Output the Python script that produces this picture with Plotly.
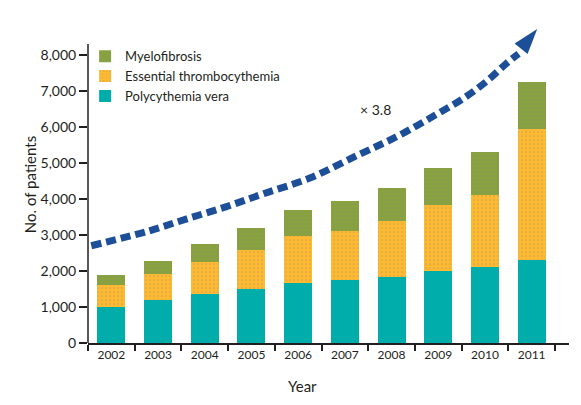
import plotly.graph_objects as go

years = ["2002", "2003", "2004", "2005", "2006", "2007", "2008", "2009", "2010", "2011"]
polycythemia_vera = [1000, 1200, 1360, 1500, 1670, 1750, 1840, 2000, 2120, 2300]
essential_thrombocythemia = [610, 720, 890, 1080, 1300, 1360, 1540, 1830, 1990, 3640]
myelofibrosis = [280, 360, 500, 610, 720, 830, 920, 1030, 1190, 1310]
y_ticks = [0, 1000, 2000, 3000, 4000, 5000, 6000, 7000, 8000]
y_axis_top = 8300

# trend arrow (in category-index units)
trend_x = [-0.43, 0.8, 1.6, 2.45, 3.25, 4.25, 5.3, 6.1, 6.9, 7.55, 8.05, 8.45, 8.72]
trend_y = [2700, 3110, 3440, 3780, 4140, 4580, 5230, 5720, 6300, 6800, 7280, 7750, 8030]
tip_x = [9.12]
tip_y = [8720]
ratio_label = "× 3.8"

FONT = "Lato"
INK = "#231f20"
BLUE = "#1D4F98"

fig = go.Figure()
fig.add_bar(x=years, y=polycythemia_vera, name="Polycythemia vera",
            marker=dict(color="#00ADAA", line=dict(width=0)))
fig.add_bar(x=years, y=essential_thrombocythemia, name="Essential thrombocythemia",
            marker=dict(color="#FDBA30", line=dict(width=0),
                        pattern=dict(shape=".", fgcolor="#9b8a8e", size=4, solidity=0.15)))
fig.add_bar(x=years, y=myelofibrosis, name="Myelofibrosis",
            marker=dict(color="#8AA23C", line=dict(width=0),
                        pattern=dict(shape=".", fgcolor="#6f8fa0", size=4, solidity=0.15)))

fig.add_scatter(x=trend_x, y=trend_y, xaxis="x2", yaxis="y", mode="lines",
                line=dict(color=BLUE, width=7, dash="10px,5px", shape="spline"),
                showlegend=False, hoverinfo="skip", cliponaxis=False)
fig.add_scatter(x=tip_x, y=tip_y, xaxis="x2", yaxis="y", mode="markers",
                marker=dict(symbol="arrow", size=27, angle=39,
                            color=BLUE, line=dict(width=0)),
                showlegend=False, hoverinfo="skip", cliponaxis=False)

fig.add_annotation(x=5.65, y=6480, xref="x2", yref="y", text=ratio_label,
                   showarrow=False, font=dict(family=FONT, size=14, color=INK))
fig.add_annotation(x=0.445, y=-0.135, xref="paper", yref="paper", text="Year",
                   showarrow=False, xanchor="center", yanchor="middle",
                   font=dict(family=FONT, size=15, color=INK))

# y axis line (ends below the top of the plotting area, as in the original)
fig.add_shape(type="line", xref="paper", yref="y", x0=0, x1=0, y0=0, y1=y_axis_top,
              line=dict(color=INK, width=1.5))

fig.update_layout(
    width=581, height=405,
    margin=dict(l=80, r=20, t=18, b=70),
    paper_bgcolor="white", plot_bgcolor="white",
    barmode="stack", bargap=0.4,
    font=dict(family=FONT, size=13, color=INK),
    legend=dict(x=-0.006, y=0.952, xanchor="left", yanchor="top",
                traceorder="reversed", font=dict(family=FONT, size=13, color=INK),
                bgcolor="rgba(0,0,0,0)", itemsizing="constant", tracegroupgap=0),
    xaxis=dict(type="category", tickson="boundaries", ticks="outside", ticklen=6,
               tickwidth=1.5, tickcolor=INK, showline=True, linecolor=INK, linewidth=1.5,
               range=[-0.5, 9.8], showgrid=False, tickfont=dict(size=12), automargin=False),
    xaxis2=dict(overlaying="x", range=[-0.5, 9.8], visible=False),
    yaxis=dict(range=[0, 8800], tickvals=y_ticks,
               tickformat=",d", ticks="outside", ticklen=8, tickwidth=1.5, tickcolor=INK,
               showline=False, showgrid=False, zeroline=False,
               tickfont=dict(size=14), automargin=False,
               title=dict(text="No. of patients", font=dict(size=15), standoff=0)),
)

fig.write_html("out.html")
